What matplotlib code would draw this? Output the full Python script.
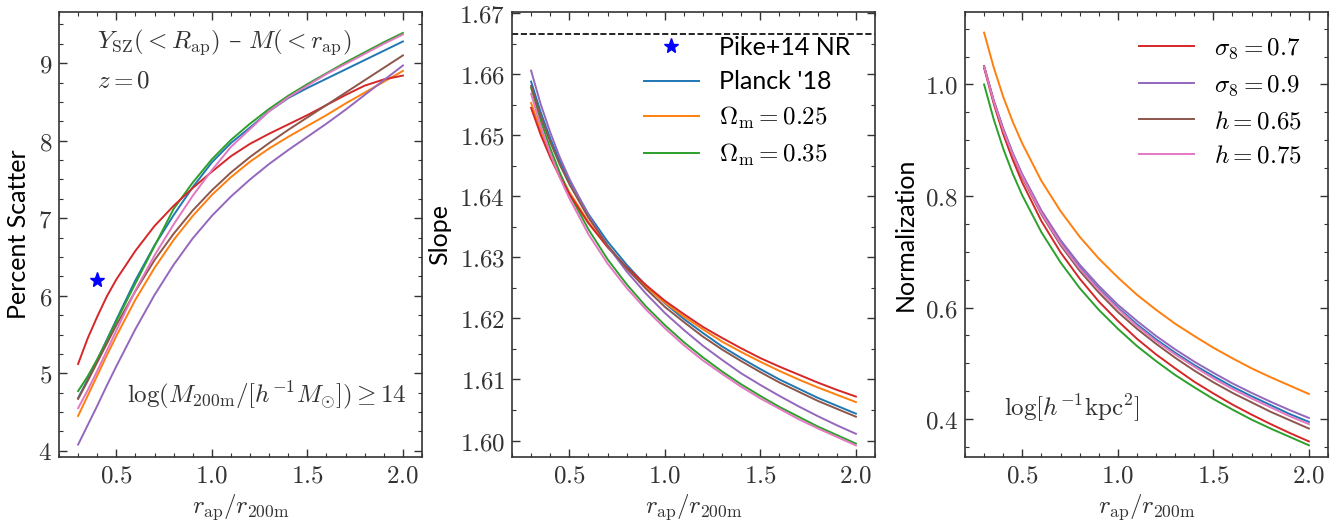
import numpy as np
import matplotlib
matplotlib.use("Agg")
import matplotlib.pyplot as plt
from matplotlib.ticker import MultipleLocator, FormatStrFormatter
from matplotlib.lines import Line2D

plt.rcParams['mathtext.fontset'] = 'cm'
plt.rcParams['font.family'] = ['Lato', 'DejaVu Sans']

# ---------------- data ----------------
x1 = [0.3, 0.35, 0.4, 0.45, 0.5, 0.6, 0.7, 0.8, 0.9, 1.0, 1.1, 1.2, 1.3, 1.4, 1.5, 1.6, 1.7, 1.8, 1.9, 2.0]
scatter_planck = [4.68, 4.92, 5.17, 5.43, 5.69, 6.20, 6.65, 7.04, 7.40, 7.72, 7.97, 8.17, 8.38, 8.55, 8.68, 8.80, 8.92, 9.04, 9.16, 9.28]
scatter_om025 = [4.45, 4.71, 4.97, 5.23, 5.48, 5.95, 6.36, 6.72, 7.03, 7.30, 7.53, 7.73, 7.90, 8.05, 8.19, 8.33, 8.48, 8.62, 8.76, 8.90]
scatter_om035 = [4.77, 4.96, 5.18, 5.42, 5.67, 6.16, 6.64, 7.12, 7.46, 7.76, 8.01, 8.22, 8.41, 8.58, 8.73, 8.87, 9.01, 9.14, 9.27, 9.39]
scatter_s807 = [5.12, 5.45, 5.73, 5.99, 6.21, 6.58, 6.90, 7.16, 7.39, 7.60, 7.80, 7.96, 8.09, 8.21, 8.33, 8.46, 8.59, 8.71, 8.79, 8.84]
scatter_s809 = [4.08, 4.33, 4.58, 4.84, 5.09, 5.57, 6.01, 6.40, 6.74, 7.03, 7.28, 7.50, 7.70, 7.88, 8.05, 8.22, 8.40, 8.59, 8.78, 8.97]
scatter_h065 = [4.67, 4.90, 5.14, 5.38, 5.62, 6.06, 6.46, 6.80, 7.10, 7.36, 7.59, 7.79, 7.97, 8.14, 8.30, 8.46, 8.62, 8.78, 8.94, 9.10]
scatter_h075 = [4.55, 4.78, 5.03, 5.29, 5.55, 6.07, 6.52, 6.92, 7.29, 7.62, 7.92, 8.15, 8.38, 8.56, 8.71, 8.86, 8.99, 9.12, 9.25, 9.37]

pike_x = [0.4]
pike_scatter = [6.2]
pike_slope = 5.0 / 3.0

x2 = [0.3, 0.35, 0.4, 0.45, 0.5, 0.6, 0.7, 0.8, 0.9, 1.0, 1.1, 1.2, 1.3, 1.4, 1.5, 1.6, 1.7, 1.8, 1.9, 2.0]
slope_planck = [1.6588, 1.6538, 1.6495, 1.6458, 1.6426, 1.6371, 1.6326, 1.6288, 1.6254, 1.6225, 1.6199, 1.6176, 1.6154, 1.6135, 1.6117, 1.6100, 1.6085, 1.6070, 1.6057, 1.6044]
slope_om025 = [1.6553, 1.6508, 1.6470, 1.6436, 1.6407, 1.6358, 1.6317, 1.6282, 1.6252, 1.6226, 1.6203, 1.6182, 1.6162, 1.6145, 1.6129, 1.6114, 1.6100, 1.6087, 1.6075, 1.6063]
slope_om035 = [1.6578, 1.6524, 1.6479, 1.6439, 1.6404, 1.6346, 1.6297, 1.6256, 1.6220, 1.6189, 1.6161, 1.6136, 1.6113, 1.6092, 1.6073, 1.6055, 1.6039, 1.6023, 1.6009, 1.5995]
slope_s807 = [1.6545, 1.6501, 1.6464, 1.6432, 1.6404, 1.6356, 1.6317, 1.6284, 1.6255, 1.6229, 1.6207, 1.6186, 1.6168, 1.6151, 1.6135, 1.6121, 1.6108, 1.6095, 1.6083, 1.6072]
slope_s809 = [1.6606, 1.6551, 1.6505, 1.6464, 1.6429, 1.6369, 1.6319, 1.6277, 1.6241, 1.6209, 1.6181, 1.6155, 1.6132, 1.6110, 1.6091, 1.6073, 1.6056, 1.6040, 1.6025, 1.6011]
slope_h065 = [1.6581, 1.6531, 1.6489, 1.6452, 1.6420, 1.6365, 1.6320, 1.6282, 1.6249, 1.6219, 1.6194, 1.6170, 1.6149, 1.6130, 1.6112, 1.6095, 1.6080, 1.6065, 1.6052, 1.6039]
slope_h075 = [1.6568, 1.6515, 1.6470, 1.6431, 1.6397, 1.6338, 1.6290, 1.6250, 1.6215, 1.6184, 1.6156, 1.6131, 1.6109, 1.6088, 1.6069, 1.6052, 1.6035, 1.6020, 1.6006, 1.5992]

x3 = [0.3, 0.35, 0.4, 0.45, 0.5, 0.6, 0.7, 0.8, 0.9, 1.0, 1.1, 1.2, 1.3, 1.4, 1.5, 1.6, 1.7, 1.8, 1.9, 2.0]
norm_planck = [1.031, 0.971, 0.920, 0.876, 0.837, 0.771, 0.717, 0.672, 0.634, 0.600, 0.570, 0.543, 0.519, 0.497, 0.477, 0.458, 0.441, 0.425, 0.409, 0.395]
norm_om025 = [1.093, 1.031, 0.978, 0.933, 0.894, 0.827, 0.773, 0.727, 0.688, 0.654, 0.623, 0.596, 0.571, 0.549, 0.528, 0.509, 0.491, 0.475, 0.460, 0.445]
norm_om035 = [1.000, 0.938, 0.885, 0.840, 0.801, 0.735, 0.681, 0.635, 0.596, 0.562, 0.531, 0.504, 0.479, 0.457, 0.436, 0.417, 0.399, 0.383, 0.368, 0.353]
norm_s807 = [1.030, 0.966, 0.911, 0.865, 0.824, 0.755, 0.699, 0.652, 0.611, 0.576, 0.544, 0.516, 0.491, 0.467, 0.446, 0.426, 0.408, 0.391, 0.375, 0.360]
norm_s809 = [1.033, 0.972, 0.921, 0.877, 0.839, 0.774, 0.721, 0.677, 0.639, 0.605, 0.576, 0.549, 0.525, 0.503, 0.483, 0.464, 0.447, 0.431, 0.416, 0.402]
norm_h065 = [1.033, 0.970, 0.918, 0.873, 0.833, 0.767, 0.712, 0.666, 0.627, 0.592, 0.562, 0.535, 0.510, 0.487, 0.466, 0.447, 0.430, 0.413, 0.398, 0.383]
norm_h075 = [1.032, 0.970, 0.918, 0.874, 0.835, 0.769, 0.715, 0.670, 0.632, 0.598, 0.567, 0.540, 0.516, 0.494, 0.473, 0.454, 0.437, 0.421, 0.405, 0.391]

labels = ["Planck '18", r"$\Omega_{\rm m} = 0.25$", r"$\Omega_{\rm m} = 0.35$",
          r"$\sigma_8 = 0.7$", r"$\sigma_8 = 0.9$", r"$h = 0.65$", r"$h = 0.75$"]
colors = ['#1f77b4', '#ff7f0e', '#2ca02c', '#d62728', '#9467bd', '#8c564b', '#e377c2']

scatter_sets = [scatter_planck, scatter_om025, scatter_om035, scatter_s807, scatter_s809, scatter_h065, scatter_h075]
slope_sets = [slope_planck, slope_om025, slope_om035, slope_s807, slope_s809, slope_h065, slope_h075]
norm_sets = [norm_planck, norm_om025, norm_om035, norm_s807, norm_s809, norm_h065, norm_h075]

TXT = '#333333'
FS = 18
LW = 1.4

fig = plt.figure(figsize=(13.41, 5.32), dpi=100)
W, H = 1341.0, 532.0
def add_ax(left_px):
    return fig.add_axes([left_px / W, (H - 457) / H, 363 / W, 445 / H])

ax1 = add_ax(59)
ax2 = add_ax(512)
ax3 = add_ax(965)

for ax in (ax1, ax2, ax3):
    ax.tick_params(which='both', direction='in', top=True, right=True,
                   labelsize=FS, labelcolor=TXT, color=TXT)
    ax.tick_params(which='major', length=6, width=1.0, pad=5)
    ax.tick_params(which='minor', length=3, width=0.8)
    for s in ax.spines.values():
        s.set_color(TXT)
        s.set_linewidth(1.2)
    ax.set_xlim(0.2, 2.1)
    ax.xaxis.set_major_locator(MultipleLocator(0.5))
    ax.xaxis.set_minor_locator(MultipleLocator(0.1))
    ax.xaxis.set_major_formatter(FormatStrFormatter(r'$%.1f$'))
    ax.set_xlabel(r'$r_{\rm ap}/r_{\rm 200m}$', fontsize=FS, color=TXT, labelpad=4)

# Panel 1
for y, c in zip(scatter_sets, colors):
    ax1.plot(x1, y, color=c, lw=LW)
ax1.plot(pike_x, pike_scatter, ls='none', marker='*', color='blue', ms=11)
ax1.set_ylim(3.92, 9.66)
ax1.yaxis.set_major_locator(MultipleLocator(1))
ax1.yaxis.set_minor_locator(MultipleLocator(0.25))
ax1.yaxis.set_major_formatter(FormatStrFormatter(r'$%d$'))
ax1.set_ylabel('Percent Scatter', fontsize=FS, labelpad=6)
ax1.text(0.105, 0.933, r'$Y_{\rm SZ}(< R_{\rm ap})$ – $M(< r_{\rm ap})$', transform=ax1.transAxes,
         fontsize=FS, color=TXT, va='center', ha='left', family=['DejaVu Serif'])
ax1.text(0.105, 0.847, r'$z = 0$', transform=ax1.transAxes, fontsize=FS, color=TXT,
         va='center', ha='left')
ax1.text(0.959, 0.139, r'$\log(M_{\rm 200m}/[h^{-1}M_{\odot}]) \geq 14$', transform=ax1.transAxes,
         fontsize=FS, color=TXT, va='center', ha='right')

# Panel 2
for y, c in zip(slope_sets, colors):
    ax2.plot(x2, y, color=c, lw=LW)
ax2.axhline(pike_slope, color='k', ls='--', lw=1.2)
ax2.set_ylim(1.5973, 1.6702)
ax2.yaxis.set_major_locator(MultipleLocator(0.01))
ax2.yaxis.set_minor_locator(MultipleLocator(0.005))
ax2.yaxis.set_major_formatter(FormatStrFormatter(r'$%.2f$'))
ax2.set_ylabel('Slope', fontsize=FS, labelpad=6)
h2 = [Line2D([], [], ls='none', marker='*', color='blue', ms=11)]
h2 += [Line2D([], [], color=colors[i], lw=LW) for i in range(3)]
ax2.legend(h2, ['Pike+14 NR'] + labels[:3], loc='upper right', frameon=False,
           fontsize=FS, bbox_to_anchor=(0.98, 0.985), handlelength=2.2,
           labelspacing=0.45, borderaxespad=0.3)

# Panel 3
for y, c in zip(norm_sets, colors):
    ax3.plot(x3, y, color=c, lw=LW)
ax3.set_ylim(0.332, 1.13)
ax3.yaxis.set_major_locator(MultipleLocator(0.2))
ax3.yaxis.set_minor_locator(MultipleLocator(0.05))
ax3.yaxis.set_major_formatter(FormatStrFormatter(r'$%.1f$'))
ax3.set_ylabel('Normalization', fontsize=FS, labelpad=6)
h3 = [Line2D([], [], color=colors[i], lw=LW) for i in range(3, 7)]
ax3.legend(h3, labels[3:], loc='upper right', frameon=False, fontsize=FS,
           bbox_to_anchor=(0.975, 0.985), handlelength=2.2, labelspacing=0.45, borderaxespad=0.3)
ax3.text(0.107, 0.11, r'$\log[h^{-1}{\rm kpc}^2]$', transform=ax3.transAxes,
         fontsize=FS, color=TXT, va='center', ha='left')

fig.savefig('out.png', dpi=100)
